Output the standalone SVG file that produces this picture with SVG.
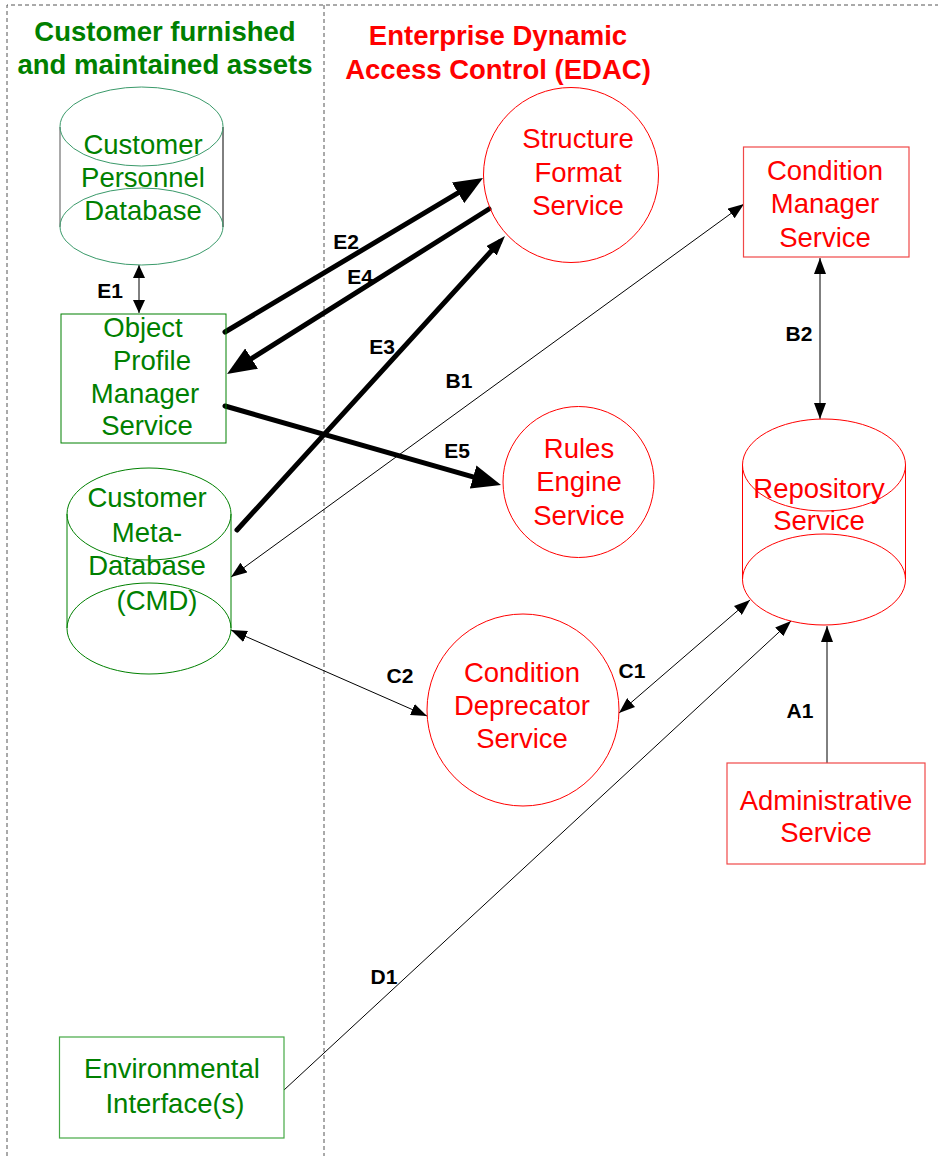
<svg xmlns="http://www.w3.org/2000/svg" width="938" height="1156" viewBox="0 0 938 1156">
  <style>
    .frame { fill: none; stroke: #555; stroke-width: 1; stroke-dasharray: 4 3; }
    .title { font-family: "Liberation Sans", Arial, sans-serif; font-weight: bold; font-size: 27.5px; text-anchor: middle; }
    .t-green { fill: #008000; }
    .t-red { fill: #ff0000; }
    .label { font-family: "Liberation Sans", Arial, sans-serif; font-size: 27.5px; text-anchor: middle; }
    .tag { font-family: "Liberation Sans", Arial, sans-serif; font-weight: bold; font-size: 21px; fill: #000; text-anchor: middle; }
    .g-shape { fill: none; stroke: #008000; stroke-width: 1; }
    .g-teal { fill: none; stroke: #3a9a6a; stroke-width: 1; }
    .g-light { fill: none; stroke: #45a845; stroke-width: 1.2; }
    .r-shape { fill: none; stroke: #ff0000; stroke-width: 1; }
    .r-rect { fill: none; stroke: #f04848; stroke-width: 1.2; }
    .thin { fill: none; stroke: #000; stroke-width: 1; }
    .thick { fill: none; stroke: #000; stroke-width: 5; stroke-linecap: round; }
  </style>
  <defs>
    <marker id="ahThin" markerUnits="userSpaceOnUse" markerWidth="16" markerHeight="12" refX="16" refY="6" orient="auto-start-reverse">
      <path d="M0,0 L16,6 L0,12 z" fill="#000"/>
    </marker>
    <marker id="ahSmall" markerUnits="userSpaceOnUse" markerWidth="13" markerHeight="12" refX="13" refY="6" orient="auto-start-reverse">
      <path d="M0,0 L13,6 L0,12 z" fill="#000"/>
    </marker>
    <marker id="ahThick" markerUnits="userSpaceOnUse" markerWidth="29" markerHeight="24" refX="19" refY="12" orient="auto">
      <path d="M0,0 L29,12 L0,24 z" fill="#000"/>
    </marker>
    <marker id="ahMid" markerUnits="userSpaceOnUse" markerWidth="20" markerHeight="14" refX="12" refY="7" orient="auto">
      <path d="M0,0 L20,7 L0,14 z" fill="#000"/>
    </marker>
  </defs>

  <rect x="0" y="0" width="938" height="1156" fill="#fff"/>

  <!-- region frames -->
  <g id="frames">
    <path class="frame" d="M7,1156 L7,5 L938,5"/>
    <path class="frame" d="M324,5 L324,1156"/>
  </g>

  <!-- region titles -->
  <g id="title-customer" class="title t-green">
    <text x="165" y="41">Customer furnished</text>
    <text x="165" y="74">and maintained assets</text>
  </g>
  <g id="title-edac" class="title t-red">
    <text x="498" y="45">Enterprise Dynamic</text>
    <text x="498" y="79">Access Control (EDAC)</text>
  </g>

  <!-- connectors -->
  <g id="connectors">
    <!-- E1 -->
    <line class="thin" x1="139" y1="265" x2="139" y2="313" stroke="#444" stroke-width="1.5" marker-start="url(#ahSmall)" marker-end="url(#ahSmall)"/>
    <!-- E2 -->
    <line class="thick" x1="225" y1="332" x2="474.4" y2="183.1" marker-end="url(#ahThick)"/>
    <!-- E4 -->
    <line class="thick" x1="489" y1="209" x2="235.5" y2="368.7" marker-end="url(#ahThick)"/>
    <!-- E5 -->
    <line class="thick" x1="225" y1="406" x2="491.4" y2="482.2" marker-end="url(#ahThick)"/>
    <!-- E3 -->
    <line class="thick" x1="237" y1="530" x2="499.6" y2="241.9" marker-end="url(#ahMid)"/>
    <!-- B1 -->
    <line class="thin" x1="231" y1="577" x2="744" y2="204" marker-start="url(#ahThin)" marker-end="url(#ahThin)"/>
    <!-- B2 -->
    <line class="thin" x1="820" y1="258" x2="820" y2="419" marker-start="url(#ahThin)" marker-end="url(#ahThin)"/>
    <!-- C2 -->
    <line class="thin" x1="231" y1="630" x2="427" y2="716" marker-start="url(#ahThin)" marker-end="url(#ahThin)"/>
    <!-- C1 -->
    <line class="thin" x1="619" y1="713" x2="750" y2="600" marker-start="url(#ahThin)" marker-end="url(#ahThin)"/>
    <!-- D1 -->
    <line class="thin" x1="284" y1="1090" x2="791" y2="621" marker-end="url(#ahThin)"/>
    <!-- A1 -->
    <line class="thin" x1="827" y1="763" x2="827" y2="626" marker-end="url(#ahThin)"/>

    <g class="tag">
      <text x="110" y="298">E1</text>
      <text x="346" y="249">E2</text>
      <text x="360" y="284">E4</text>
      <text x="382" y="354">E3</text>
      <text x="459" y="388">B1</text>
      <text x="457" y="458">E5</text>
      <text x="799" y="341">B2</text>
      <text x="400" y="683">C2</text>
      <text x="632" y="678">C1</text>
      <text x="800" y="718">A1</text>
      <text x="384" y="984">D1</text>
    </g>
  </g>

  <!-- Customer Personnel Database -->
  <g id="customer-personnel-db">
    <line x1="60" y1="127" x2="60" y2="227" stroke="#555" stroke-width="1"/>
    <line x1="223" y1="127" x2="223" y2="227" stroke="#000" stroke-width="1"/>
    <ellipse class="g-teal" cx="141.5" cy="126.5" rx="81.5" ry="39.5"/>
    <ellipse class="g-teal" cx="141.5" cy="226.5" rx="81.5" ry="38.5"/>
    <g class="label t-green">
      <text x="143" y="154">Customer</text>
      <text x="143" y="187">Personnel</text>
      <text x="143" y="220">Database</text>
    </g>
  </g>

  <!-- Object Profile Manager Service -->
  <g id="object-profile-manager">
    <rect class="g-shape" x="61" y="314" width="165" height="129"/>
    <g class="label t-green">
      <text x="143" y="337">Object</text>
      <text x="152" y="370">Profile</text>
      <text x="145" y="403">Manager</text>
      <text x="147" y="435">Service</text>
    </g>
  </g>

  <!-- Customer Meta-Database (CMD) -->
  <g id="customer-meta-db">
    <line class="g-shape" x1="67" y1="514" x2="67" y2="628"/>
    <line class="g-shape" x1="231" y1="514" x2="231" y2="628"/>
    <ellipse class="g-shape" cx="149" cy="514" rx="82" ry="46"/>
    <ellipse class="g-shape" cx="149" cy="628.5" rx="82" ry="45.5"/>
    <g class="label t-green">
      <text x="147" y="507">Customer</text>
      <text x="147" y="542">Meta-</text>
      <text x="147" y="575">Database</text>
      <text x="157" y="610">(CMD)</text>
    </g>
  </g>

  <!-- Environmental Interface(s) -->
  <g id="environmental-interface">
    <rect class="g-light" x="59.5" y="1037" width="224.5" height="101"/>
    <g class="label t-green">
      <text x="172" y="1078">Environmental</text>
      <text x="175" y="1113">Interface(s)</text>
    </g>
  </g>

  <!-- Structure Format Service -->
  <g id="structure-format-service">
    <circle class="r-shape" cx="571" cy="175" r="87.5"/>
    <g class="label t-red">
      <text x="578" y="148">Structure</text>
      <text x="578" y="182">Format</text>
      <text x="578" y="215">Service</text>
    </g>
  </g>

  <!-- Condition Manager Service -->
  <g id="condition-manager-service">
    <rect class="r-rect" x="743.5" y="147" width="165.5" height="110"/>
    <g class="label t-red">
      <text x="825" y="180">Condition</text>
      <text x="825" y="213">Manager</text>
      <text x="825" y="247">Service</text>
    </g>
  </g>

  <!-- Rules Engine Service -->
  <g id="rules-engine-service">
    <circle class="r-shape" cx="578.5" cy="482" r="75.5"/>
    <g class="label t-red">
      <text x="579" y="458">Rules</text>
      <text x="579" y="491">Engine</text>
      <text x="579" y="525">Service</text>
    </g>
  </g>

  <!-- Repository Service -->
  <g id="repository-service">
    <line class="r-shape" x1="742.5" y1="465" x2="742.5" y2="579.5"/>
    <line class="r-shape" x1="905.5" y1="465" x2="905.5" y2="579.5"/>
    <ellipse class="r-shape" cx="824" cy="465" rx="81.5" ry="46"/>
    <ellipse class="r-shape" cx="824" cy="579.5" rx="81.5" ry="45.5"/>
    <g class="label t-red">
      <text x="819" y="498">Repository</text>
      <text x="819" y="530">Service</text>
    </g>
  </g>

  <!-- Condition Deprecator Service -->
  <g id="condition-deprecator-service">
    <circle class="r-shape" cx="523" cy="710" r="96"/>
    <g class="label t-red">
      <text x="522" y="682">Condition</text>
      <text x="522" y="715">Deprecator</text>
      <text x="522" y="748">Service</text>
    </g>
  </g>

  <!-- Administrative Service -->
  <g id="administrative-service">
    <rect class="r-rect" x="727" y="763" width="198" height="101"/>
    <g class="label t-red">
      <text x="826" y="810">Administrative</text>
      <text x="826" y="842">Service</text>
    </g>
  </g>
</svg>
